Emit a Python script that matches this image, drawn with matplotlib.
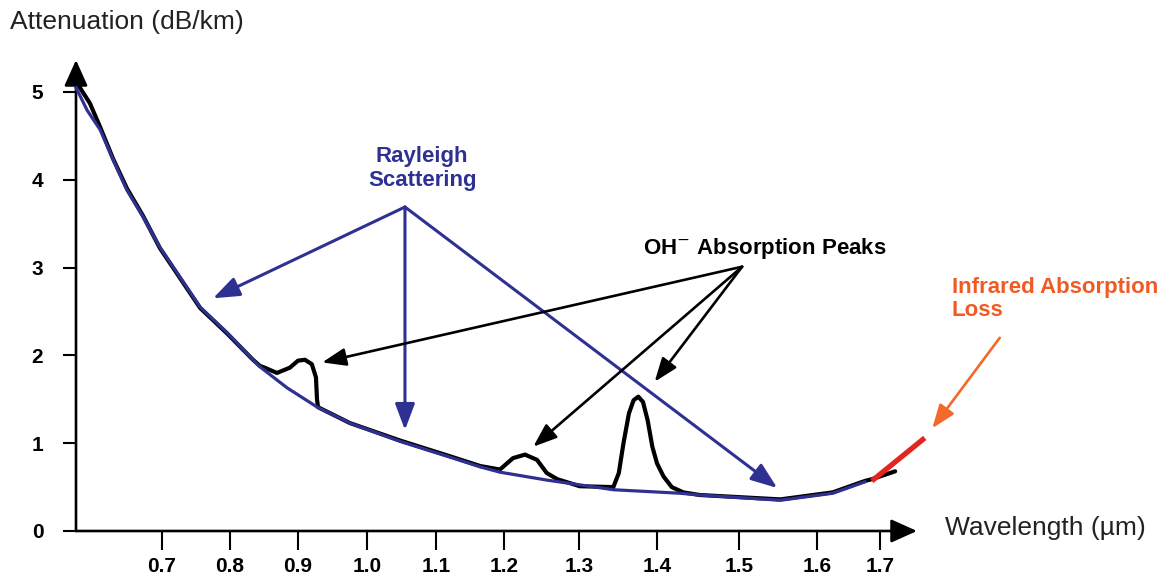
import numpy as np
import matplotlib
matplotlib.use("Agg")
import matplotlib.pyplot as plt

plt.rcParams['font.family'] = ['Liberation Sans', 'DejaVu Sans']

# ---------------- data ----------------
xtick_vals = [0.7, 0.8, 0.9, 1.0, 1.1, 1.2, 1.3, 1.4, 1.5, 1.6, 1.7]
xtick_labels = ['0.7', '0.8', '0.9', '1.0', '1.1', '1.2', '1.3', '1.4', '1.5', '1.6', '1.7']
ytick_vals = [0, 1, 2, 3, 4, 5]
ytick_labels = ['0', '1', '2', '3', '4', '5']

# Rayleigh scattering curve (blue)
rayleigh_wl = [0.5735, 0.590, 0.609, 0.628, 0.6485, 0.672, 0.697, 0.7265, 0.756, 0.7956,
               0.8338, 0.844, 0.884, 0.928, 0.975, 1.048, 1.121, 1.165, 1.194, 1.257,
               1.344, 1.428, 1.452, 1.553, 1.625, 1.676]
rayleigh_db = [5.05, 4.79, 4.57, 4.23, 3.88, 3.58, 3.23, 2.89, 2.55, 2.26,
               1.95, 1.87, 1.63, 1.41, 1.23, 1.02, 0.84, 0.73, 0.67, 0.58,
               0.47, 0.43, 0.41, 0.35, 0.43, 0.56]

# Measured attenuation (black) with OH- absorption peaks
measured_wl = [0.5735, 0.594, 0.609, 0.628, 0.6485, 0.672, 0.697, 0.7265, 0.756, 0.7956,
               0.8338, 0.844, 0.851, 0.869, 0.888, 0.900, 0.910, 0.920, 0.926, 0.9275,
               0.929, 0.975, 1.048, 1.121, 1.165, 1.194, 1.212, 1.228, 1.244, 1.257,
               1.271, 1.301, 1.344, 1.351, 1.357, 1.364, 1.370, 1.376, 1.382, 1.388,
               1.394, 1.400, 1.408, 1.418, 1.432, 1.452, 1.553, 1.625, 1.676, 1.687,
               1.724]
measured_db = [5.12, 4.87, 4.60, 4.24, 3.90, 3.59, 3.22, 2.88, 2.54, 2.25,
               1.95, 1.88, 1.86, 1.80, 1.86, 1.94, 1.95, 1.90, 1.75, 1.50,
               1.41, 1.23, 1.03, 0.85, 0.74, 0.70, 0.83, 0.87, 0.81, 0.66,
               0.59, 0.51, 0.50, 0.66, 1.00, 1.34, 1.49, 1.53, 1.47, 1.26,
               0.96, 0.77, 0.62, 0.50, 0.44, 0.41, 0.36, 0.44, 0.57, 0.59,
               0.68]

# Infrared absorption loss (red)
ir_wl = [1.687, 1.771]
ir_db = [0.57, 1.06]

# ---------------- layout / style ----------------
BLUE = '#2E3192'
ORANGE = '#F15A24'
RED = '#E3241F'

# hand-drawn axis: uneven tick spacing (relative positions of the ticks)
axis_warp = np.array([162, 230, 298, 367, 436, 504, 579, 657, 739, 817, 880], float)
T = np.array(xtick_vals, float)


def fwd(x):
    x = np.asarray(x, float)
    y = np.interp(x, T, axis_warp)
    lo = axis_warp[0] + (x - T[0]) * (axis_warp[1] - axis_warp[0]) / (T[1] - T[0])
    hi = axis_warp[-1] + (x - T[-1]) * (axis_warp[-1] - axis_warp[-2]) / (T[-1] - T[-2])
    return np.where(x < T[0], lo, np.where(x > T[-1], hi, y))


def inv(p):
    p = np.asarray(p, float)
    y = np.interp(p, axis_warp, T)
    lo = T[0] + (p - axis_warp[0]) * (T[1] - T[0]) / (axis_warp[1] - axis_warp[0])
    hi = T[-1] + (p - axis_warp[-1]) * (T[-1] - T[-2]) / (axis_warp[-1] - axis_warp[-2])
    return np.where(p < axis_warp[0], lo, np.where(p > axis_warp[-1], hi, y))


fig = plt.figure(figsize=(11.71, 5.79), dpi=100)
ax = fig.add_axes([76 / 1171, 48 / 579, 841 / 1171, 471 / 579])
ax.set_xscale('function', functions=(fwd, inv))
ax.set_xlim(0.5735, 1.7587)
ax.set_ylim(0, 5.364)

for s in ax.spines.values():
    s.set_visible(False)

ax.set_xticks(xtick_vals, labels=xtick_labels, fontsize=15, fontweight='bold')
ax.set_yticks(ytick_vals, labels=ytick_labels, fontsize=15, fontweight='bold')
ax.tick_params(axis='x', direction='out', length=13.5, width=1.5, pad=5, colors='black')
ax.tick_params(axis='y', direction='out', length=9.5, width=1.5, pad=14, colors='black')

# axis lines with arrow heads
axis_arrow = dict(arrowstyle='-|>,head_length=0.8,head_width=0.36', mutation_scale=20,
                  lw=1.9, color='black', shrinkA=0, shrinkB=0)
ax.annotate('', xy=(1, 0), xytext=(0, 0), xycoords='axes fraction',
            arrowprops=axis_arrow, annotation_clip=False)
ax.annotate('', xy=(0, 1), xytext=(0, 0), xycoords='axes fraction',
            arrowprops=axis_arrow, annotation_clip=False)

# curves
ax.plot(measured_wl, measured_db, color='black', lw=3.0, zorder=3, clip_on=False,
        solid_joinstyle='round', solid_capstyle='round')
ax.plot(rayleigh_wl, rayleigh_db, color=BLUE, lw=2.3, zorder=4, clip_on=False,
        solid_joinstyle='round')
ax.plot(ir_wl, ir_db, color=RED, lw=3.8, zorder=5, clip_on=False, solid_capstyle='butt')

# Rayleigh arrows
ray_arrow = dict(arrowstyle='-|>,head_length=0.8,head_width=0.3', mutation_scale=20,
                 lw=2.2, color=BLUE, shrinkA=0, shrinkB=0)
for tip in [(0.775, 2.65), (1.055, 1.15), (1.549, 0.49)]:
    ax.annotate('', xy=tip, xytext=(1.055, 3.69), arrowprops=ray_arrow, zorder=6)
ax.text(1.080, 4.13, 'Rayleigh\nScattering', ha='center', va='center', color=BLUE,
        fontsize=16, fontweight='bold', linespacing=1.2)

# OH- arrows
oh_arrow = dict(arrowstyle='-|>,head_length=0.8,head_width=0.3', mutation_scale=18,
                lw=1.9, color='black', shrinkA=0, shrinkB=0)
for tip in [(0.935, 1.92), (1.239, 0.96), (1.397, 1.70)]:
    ax.annotate('', xy=tip, xytext=(1.504, 3.01), arrowprops=oh_arrow, zorder=6)
ax.text(1.382, 3.22, 'OH$^{-}$ Absorption Peaks', ha='left', va='center', color='black',
        fontsize=16, fontweight='bold')

# Infrared arrow + label
ir_arrow = dict(arrowstyle='-|>,head_length=0.8,head_width=0.3', mutation_scale=18,
                lw=1.9, color='#F26A2A', shrinkA=0, shrinkB=0)
ax.annotate('', xy=(1.783, 1.17), xytext=(1.890, 2.20), arrowprops=ir_arrow,
            annotation_clip=False)
ax.text(1.814, 2.64, 'Infrared Absorption\nLoss', ha='left', va='center', color=ORANGE,
        fontsize=16, fontweight='bold', linespacing=1.1, clip_on=False)

# axis titles
fig.text(10 / 1171, 1 - 22 / 579, 'Attenuation (dB/km)', ha='left', va='center',
         fontsize=19, color='#222222')
fig.text(945 / 1171, 1 - 528 / 579, 'Wavelength (µm)', ha='left', va='center',
         fontsize=19, color='#222222')

fig.savefig('out.png', dpi=100)
